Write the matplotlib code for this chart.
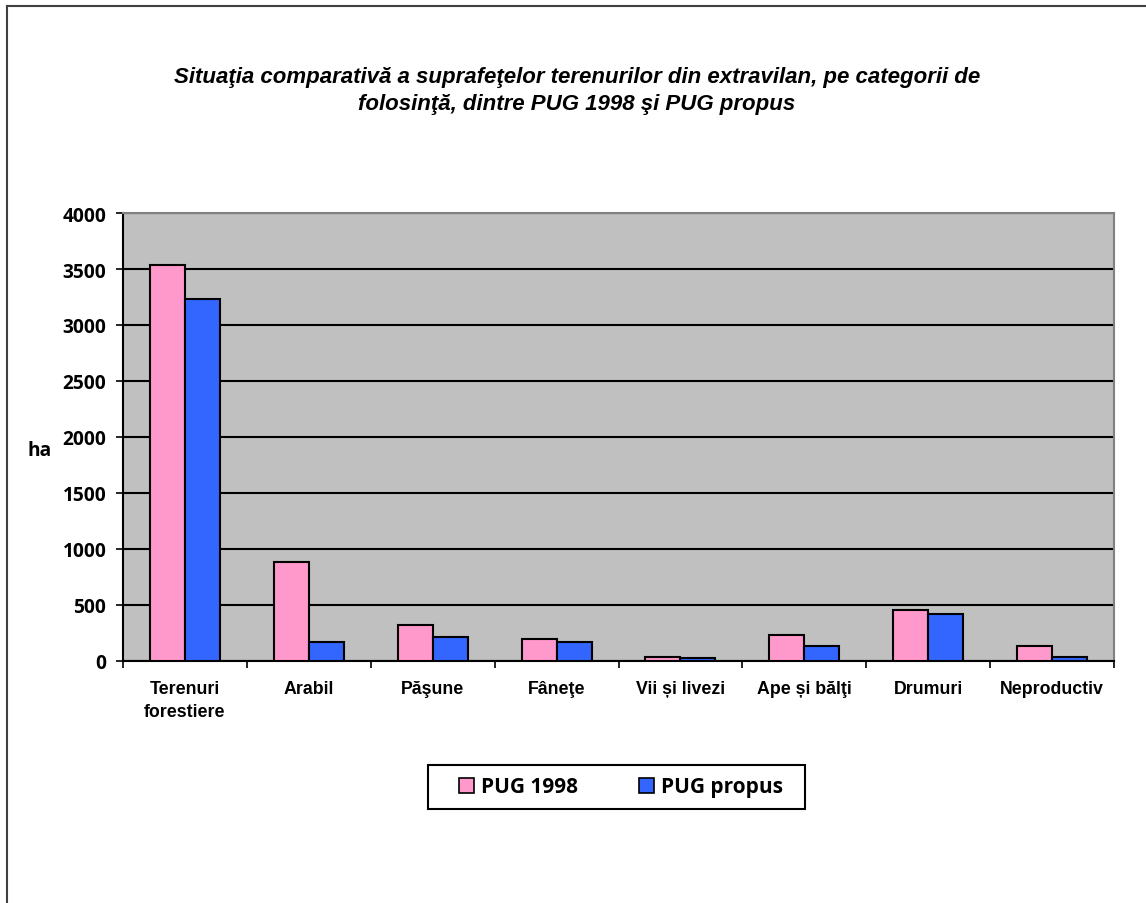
import numpy as np
import matplotlib.pyplot as plt
from matplotlib.patches import Patch, Rectangle
from matplotlib.lines import Line2D

categories = ['Terenuri\nforestiere', 'Arabil', 'Păşune', 'Fâneţe',
              'Vii și livezi', 'Ape și bălţi', 'Drumuri', 'Neproductiv']
pug_1998 = [3533, 881, 317, 197, 33, 231, 458, 135]
pug_propus = [3230, 168, 215, 168, 30, 135, 422, 33]
y_ticks = [0, 500, 1000, 1500, 2000, 2500, 3000, 3500, 4000]

pink = '#FF99CC'
blue = '#3366FF'

W, H = 1146, 904
fig = plt.figure(figsize=(W / 100, H / 100), dpi=100)
fig.patch.set_facecolor('white')

# outer chart frame (left and top edges only visible)
fig.add_artist(Line2D([7 / W, 7 / W], [0, 1 - 7 / H], color='#404040', lw=1.5))
fig.add_artist(Line2D([7 / W, 1], [1 - 7 / H, 1 - 7 / H], color='#404040', lw=1.5))

ax = fig.add_axes([123 / W, 1 - 662 / H, 991 / W, 448 / H])
ax.set_facecolor('#C0C0C0')

x = np.arange(len(categories))
w = 0.2825
ax.bar(x - w / 2, pug_1998, w, color=pink, edgecolor='black', linewidth=1.5, zorder=3)
ax.bar(x + w / 2, pug_propus, w, color=blue, edgecolor='black', linewidth=1.5, zorder=3)

ax.set_xlim(-0.5, len(categories) - 0.5)
ax.set_ylim(0, 4000)
ax.set_yticks(y_ticks)
ax.yaxis.grid(True, color='black', lw=1.5)
ax.set_axisbelow(True)

ax.set_xticks(x)
ax.set_xticklabels(categories, fontsize=12.8, fontweight='bold',
                   family='Liberation Sans', linespacing=1.4)
ax.set_xticks(np.arange(-0.5, len(categories)), minor=True)
ax.tick_params(axis='x', which='major', length=0, pad=14)
ax.tick_params(axis='x', which='minor', length=5, width=1.2, color='black', direction='out')
ax.tick_params(axis='y', length=5, width=1.2, direction='out', pad=7)
for lab in ax.get_yticklabels():
    lab.set_fontfamily('Open Sans')
    lab.set_fontweight('bold')
    lab.set_fontsize(13.8)

for s in ['left', 'bottom']:
    ax.spines[s].set_color('black')
    ax.spines[s].set_linewidth(1.5)
for s in ['top', 'right']:
    ax.spines[s].set_color('#808080')
    ax.spines[s].set_linewidth(1.5)

fig.text(40 / W, 1 - 451 / H, 'ha', fontsize=13.8, fontweight='bold',
         family='Open Sans', ha='center', va='center')

fig.text(577 / W, 1 - 91 / H,
         'Situaţia comparativă a suprafeţelor terenurilor din extravilan, pe categorii de\n'
         'folosinţă, dintre PUG 1998 şi PUG propus',
         fontsize=16, fontweight='bold', style='italic', family='Liberation Sans',
         ha='center', va='center', linespacing=1.4)

handles = [Patch(facecolor=pink, edgecolor='black', lw=1.2),
           Patch(facecolor=blue, edgecolor='black', lw=1.2)]
leg = fig.legend(handles, ['PUG 1998', 'PUG propus'], loc='center',
                 bbox_to_anchor=(621 / W, 1 - 788 / H), ncol=2,
                 prop={'family': 'Open Sans', 'weight': 'bold', 'size': 15},
                 frameon=False, handlelength=0.72, handleheight=0.72,
                 handletextpad=0.35, columnspacing=2.9, borderpad=0, borderaxespad=0)

# legend box
fig.add_artist(Rectangle((428 / W, 1 - 810 / H), 377 / W, 44 / H, transform=fig.transFigure,
                         facecolor='none', edgecolor='black', lw=1.5, zorder=1))

fig.savefig('out.png', dpi=100)
